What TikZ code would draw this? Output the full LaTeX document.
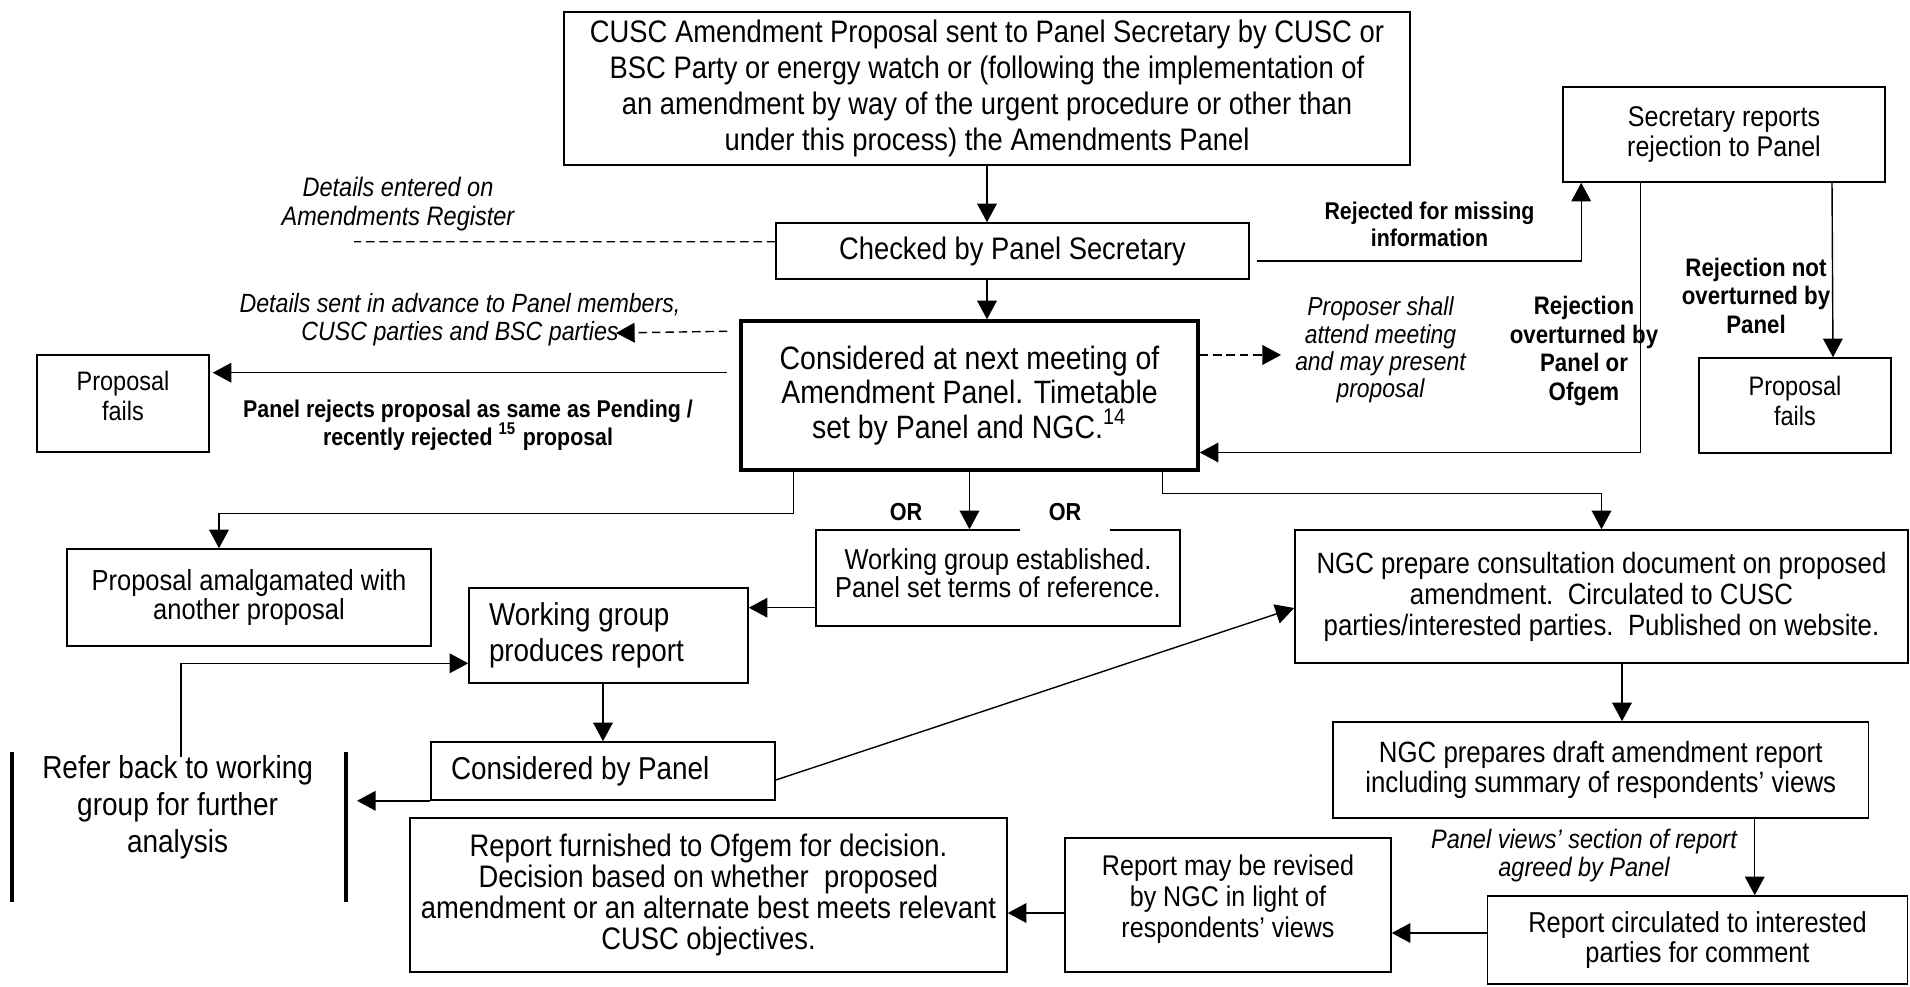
\documentclass[tikz,border=0pt]{standalone}
\usepackage{fontspec}
\setmainfont{Liberation Sans}[FakeStretch=0.88]
\usetikzlibrary{arrows.meta}

\begin{document}
\begin{tikzpicture}[>={Triangle[length=5.3pt,width=5.6pt]},
		box/.style={draw, line width=0.45pt, align=center, inner sep=0pt},
		note/.style={align=center, inner sep=1pt},
		arrow/.style={->, line width=0.4pt},
		dashline/.style={line width=0.4pt, dash pattern=on 2.4pt off 1.4pt},
		dasharrow/.style={->, line width=0.4pt, dash pattern=on 2.4pt off 1.4pt},
		bar/.style={line width=0.9pt}]
		\useasboundingbox (0,0) rectangle (19.10,-9.87);
		% boxes
		\node[box, minimum width=8.46cm, minimum height=1.53cm, font=\fontsize{8.85}{10.24}\selectfont] (prop) at (9.87,-0.885)
			{CUSC Amendment Proposal sent to Panel Secretary by CUSC or\\BSC Party or energy watch or (following the implementation of\\an amendment by way of the urgent procedure or other than\\under this process) the Amendments Panel};
		\node[box, minimum width=4.73cm, minimum height=0.56cm, font=\fontsize{8.85}{10.24}\selectfont] (checked) at (10.125,-2.51)
			{Checked by Panel Secretary};
		\node[box, line width=1pt, minimum width=4.57cm, minimum height=1.49cm, font=\fontsize{9.2}{9.8}\selectfont] (considered) at (9.695,-3.955)
			{Considered at next meeting of\\Amendment Panel. Timetable\\set by Panel and NGC.\textsuperscript{14}};
		\node[box, minimum width=3.22cm, minimum height=0.95cm, font=\fontsize{8.1}{8.5}\selectfont] (secrep) at (17.24,-1.345)
			{Secretary reports\\rejection to Panel};
		\node[box, minimum width=1.72cm, minimum height=0.97cm, font=\fontsize{7.6}{8.5}\selectfont] (failL) at (1.23,-4.035)
			{Proposal\\fails\\[-4pt]};
		\node[box, minimum width=1.915cm, minimum height=0.95cm, font=\fontsize{7.6}{8.5}\selectfont] (failR) at (17.95,-4.055)
			{Proposal\\fails\\[-6pt]};
		\node[box, minimum width=3.635cm, minimum height=0.97cm, font=\fontsize{8.25}{8.3}\selectfont] (amalg) at (2.49,-5.975)
			{Proposal amalgamated with\\another proposal};
		\node[box, minimum width=3.64cm, minimum height=0.96cm, font=\fontsize{8.2}{8}\selectfont] (wgest) at (9.98,-5.78)
			{Working group established.\\Panel set terms of reference.\\[-5pt]};
		\node[box, align=left, text width=2.39cm, minimum width=2.79cm, minimum height=0.95cm, font=\fontsize{9}{10.4}\selectfont] (wgprod) at (6.085,-6.355)
			{\spaceskip=0pt Working group\\produces report};
		\node[box, align=left, text width=3.04cm, minimum width=3.44cm, minimum height=0.58cm, font=\fontsize{9}{10.4}\selectfont] (considp) at (6.03,-7.71)
			{\spaceskip=0pt Considered by Panel};
		\node[box, minimum width=6.13cm, minimum height=1.33cm, font=\fontsize{8.35}{8.8}\selectfont] (ngc) at (16.015,-5.965)
			{NGC prepare consultation document on proposed\\amendment.\ \ Circulated to CUSC\\parties/interested parties.\ \ Published on website.};
		\node[box, minimum width=5.355cm, minimum height=0.96cm, font=\fontsize{8.35}{8.5}\selectfont] (draft) at (16.0075,-7.70)
			{NGC prepares draft amendment report\\including summary of respondents’ views};
		\node[box, minimum width=4.20cm, minimum height=0.88cm, font=\fontsize{8.2}{8.5}\selectfont] (circ) at (16.975,-9.40)
			{Report circulated to interested\\parties for comment};
		\node[box, minimum width=3.26cm, minimum height=1.34cm, font=\fontsize{8.1}{8.8}\selectfont] (revised) at (12.28,-9.05)
			{Report may be revised\\by NGC in light of\\respondents’ views\\[-4pt]};
		\node[box, minimum width=5.97cm, minimum height=1.54cm, font=\fontsize{8.85}{8.8}\selectfont] (furnished) at (7.085,-8.95)
			{Report furnished to Ofgem for decision.\\Decision based on whether\ \ proposed\\amendment or an alternate best meets relevant\\CUSC objectives.};
		\node[align=center, inner sep=0pt, font=\fontsize{9.05}{10.5}\selectfont] (refer) at (1.776,-8.07)
			{Refer back to working\\group for further\\analysis};
		\coordinate (referL) at ([xshift=-1.656cm,yshift=.55cm]refer.center);
		\coordinate (referR) at ([xshift=1.684cm,yshift=.55cm]refer.center);
		\draw[bar] (referL) -- ++(0,-1.5);
		\draw[bar] (referR) -- ++(0,-1.5);
		% side notes
		\node[note, font=\fontsize{7.6}{8.3}\selectfont\itshape] (regnote) at (3.98,-2.045)
			{Details entered on\\Amendments Register};
		\node[note, font=\fontsize{7.5}{7.8}\selectfont\itshape] (sentnote) at (4.60,-3.195)
			{Details sent in advance to Panel members,\\CUSC parties and BSC parties};
		\node[note, font=\fontsize{6.9}{8}\selectfont\bfseries] (rejnote) at (4.68,-4.25)
			{Panel rejects proposal as same as Pending /\\recently rejected \textsuperscript{15} proposal};
		\node[note, font=\fontsize{7.4}{7.8}\selectfont\itshape] (propnote) at (13.805,-3.5)
			{Proposer shall\\attend meeting\\and may present\\proposal};
		\node[note, font=\fontsize{6.9}{7.7}\selectfont\bfseries] (missnote) at (14.295,-2.245)
			{Rejected for missing\\information};
		\node[note, font=\fontsize{7.2}{8.2}\selectfont\bfseries] (ovnote) at (15.84,-3.51)
			{Rejection\\overturned by\\Panel or\\Ofgem};
		\node[note, font=\fontsize{7.2}{8.1}\selectfont\bfseries] (notnote) at (17.56,-2.957)
			{Rejection not\\overturned by\\Panel};
		\node[note, font=\fontsize{7.6}{8}\selectfont\itshape] (viewnote) at (15.84,-8.56)
			{Panel views’ section of report\\agreed by Panel};
		\node[note, font=\fontsize{7}{8}\selectfont\bfseries] (or1) at (9.06,-5.12) {OR};
		\node[note, fill=white, minimum width=0.9cm, minimum height=0.40cm, font=\fontsize{7}{8}\selectfont\bfseries] (or2) at (10.65,-5.12)
			{OR};
		\coordinate (regend) at (3.54,-2.417);
		\coordinate (senttip) at (6.16,-3.33);
		% connectors
		\draw[arrow] (prop.south) -- (prop.south |- checked.north);
		\draw[arrow] (prop.south |- checked.south) -- (prop.south |- considered.north);
		\draw[dashline] ([yshift=.093cm]checked.west) -- (regend);
		\draw[arrow] ([xshift=.07cm,yshift=-.1cm]checked.east) -| ([xshift=.19cm]secrep.south west);
		\draw[dasharrow] ([xshift=-.12cm,yshift=-.12cm]considered.north west) -- (senttip);
		\draw[arrow] ([xshift=-.12cm,yshift=.228cm]considered.west) coordinate (rj) -- ([xshift=.03cm]rj -| failL.east);
		\draw[dasharrow] ([yshift=-.357cm]considered.north east) coordinate (pa) -- ([xshift=-.1cm]pa -| propnote.west);
		\draw[arrow] ([xshift=.78cm]secrep.south west) |- ([yshift=-.57cm]considered.east);
		\draw[arrow] ([xshift=1.08cm]secrep.south) -- ([xshift=.38cm]failR.north);
		\draw[arrow] ([xshift=.54cm]considered.south west) -- ++(0,-.417) -| ([xshift=-.30cm]amalg.north);
		\draw[arrow] (considered.south) -- (considered.south |- wgest.north);
		\draw[arrow] ([xshift=-.37cm]considered.south east) -- ++(0,-.217) -| (ngc.north);
		\draw[arrow] ([yshift=-.297cm]wgest.west) coordinate (wg) -- (wg -| wgprod.east);
		\draw[arrow] (wgprod.south -| considp.north) -- (considp.north);
		\draw[arrow] (considp.south west) -- ([xshift=.11cm]considp.south west -| referR);
		\draw[arrow] ([xshift=.034cm,yshift=.5cm]refer.center) |- ([yshift=-.278cm]wgprod.west);
		\draw[arrow] ([yshift=-.09cm]considp.east) -- ([yshift=-.115cm]ngc.west);
		\draw[arrow] ([xshift=.205cm]ngc.south) coordinate (nd) -- (nd |- draft.north);
		\draw[arrow] ([xshift=1.54cm]draft.south) coordinate (dv) -- (dv |- circ.north);
		\draw[arrow] ([yshift=.07cm]circ.west) coordinate (cv) -- (cv -| revised.east);
		\draw[arrow] ([yshift=-.08cm]revised.west) coordinate (rv) -- (rv -| furnished.east);
	\end{tikzpicture}
\end{document}
